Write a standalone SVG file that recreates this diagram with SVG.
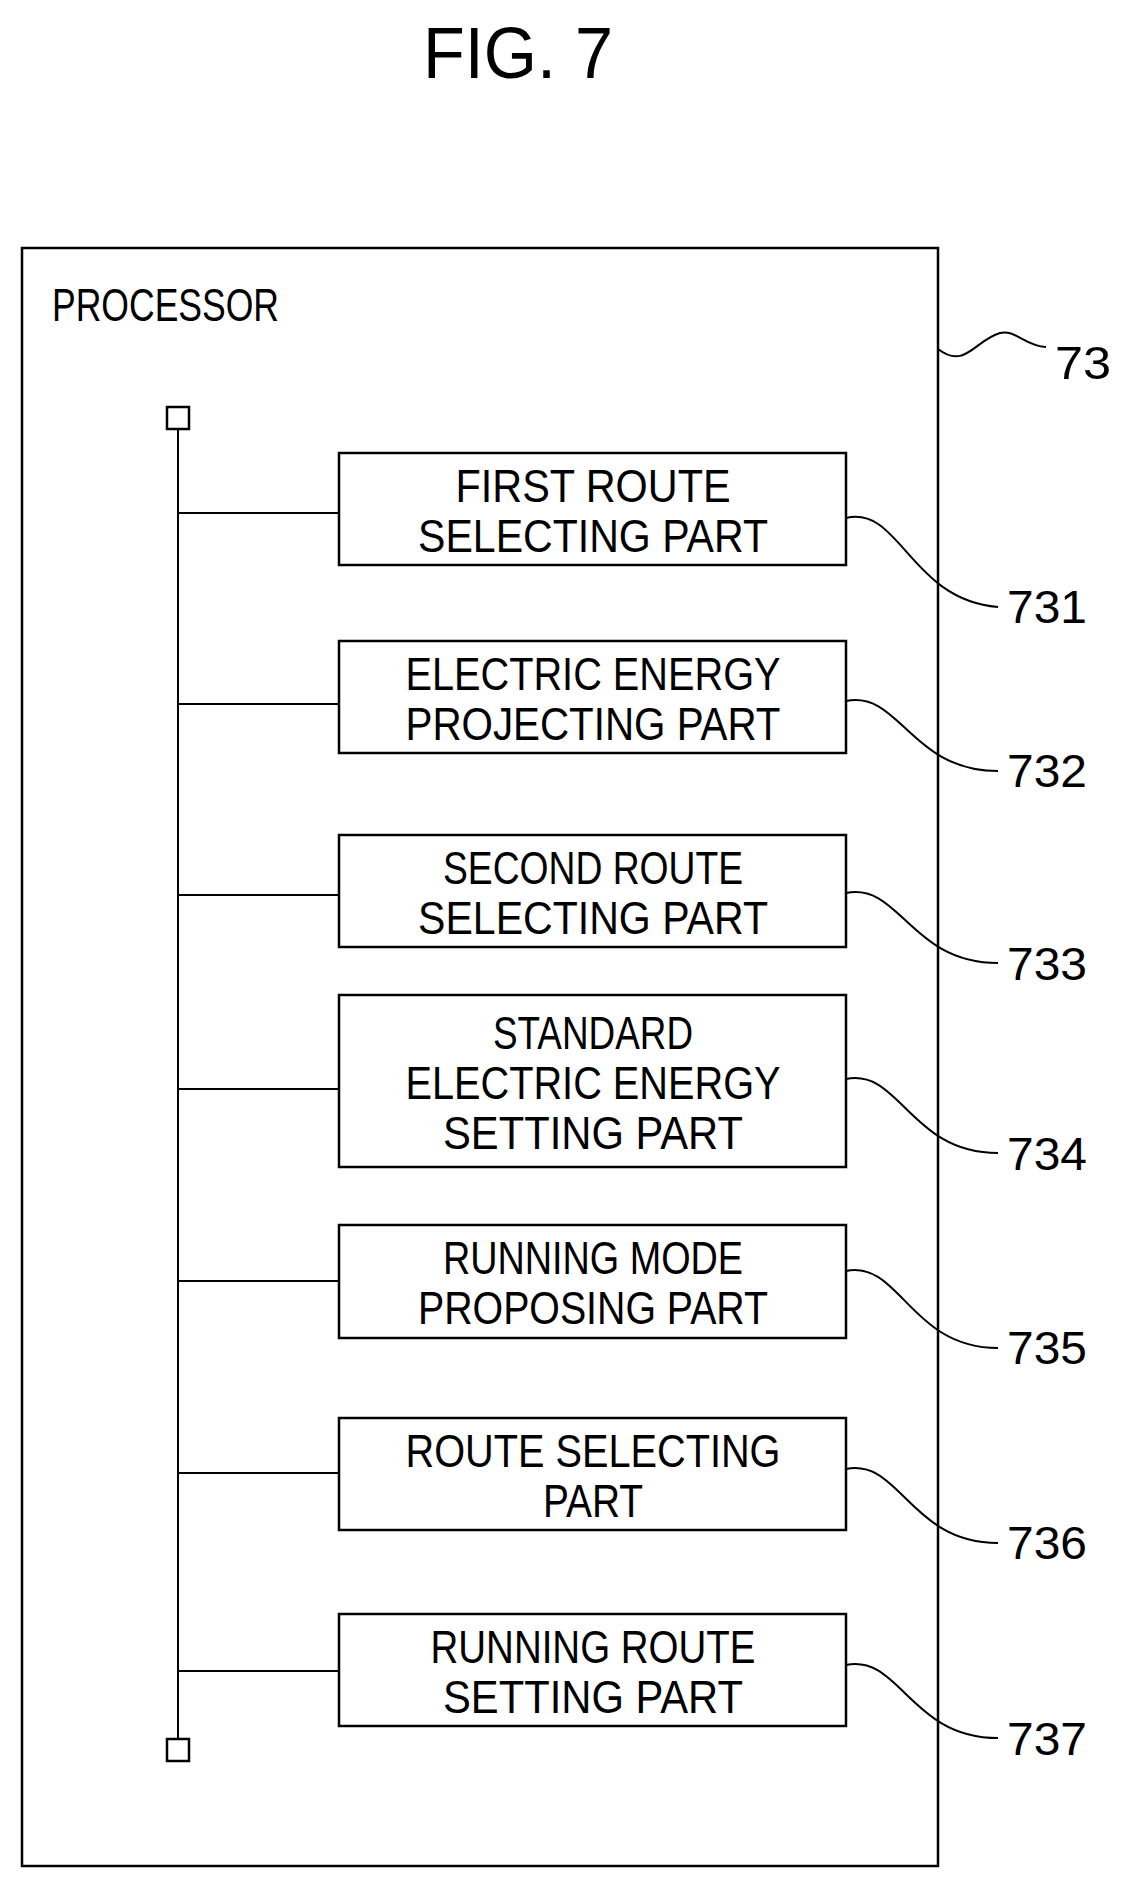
<svg xmlns="http://www.w3.org/2000/svg" width="1130" height="1893" viewBox="0 0 1130 1893">
<style>
text{font-family:"Liberation Sans",Arial,sans-serif;font-size:46px;fill:#000}
.c{text-anchor:middle}
.box{fill:#fff;stroke:#000;stroke-width:2.5}
.ln{fill:none;stroke:#000;stroke-width:2}
</style>
<rect width="1130" height="1893" fill="#fff"/>
<text x="518" y="78" class="c" style="font-size:72px" textLength="190" lengthAdjust="spacingAndGlyphs">FIG. 7</text>
<g id="processor">
<rect x="22" y="248" width="916" height="1618" class="box" stroke-width="3"/>
<text x="52" y="321" textLength="227" lengthAdjust="spacingAndGlyphs">PROCESSOR</text>
</g>
<g id="connectors">
<rect x="167" y="407" width="22" height="22" class="box" stroke-width="2"/>
<rect x="167" y="1739" width="22" height="22" class="box" stroke-width="2"/>
<line x1="178" y1="429" x2="178" y2="1739" class="ln"/>
<line x1="178" y1="513" x2="339" y2="513" class="ln"/>
<line x1="178" y1="704" x2="339" y2="704" class="ln"/>
<line x1="178" y1="895" x2="339" y2="895" class="ln"/>
<line x1="178" y1="1089" x2="339" y2="1089" class="ln"/>
<line x1="178" y1="1281" x2="339" y2="1281" class="ln"/>
<line x1="178" y1="1473" x2="339" y2="1473" class="ln"/>
<line x1="178" y1="1671" x2="339" y2="1671" class="ln"/>
<path d="M938,349 C965,370 975,340 1000,333 C1015,329 1025,346 1046,347" class="ln"/>
<path d="M846,518 C900,505 910,600 998,607" class="ln"/>
<path d="M846,701 C900,690 910,771 998,771" class="ln"/>
<path d="M846,893 C900,882 910,963 998,963" class="ln"/>
<path d="M846,1079 C900,1068 910,1153 998,1153" class="ln"/>
<path d="M846,1271 C900,1260 910,1348 998,1348" class="ln"/>
<path d="M846,1469 C900,1458 910,1543 998,1543" class="ln"/>
<path d="M846,1665 C900,1654 910,1738 998,1738" class="ln"/>
</g>
<g id="labels">
<text x="1055" y="379" textLength="56" lengthAdjust="spacingAndGlyphs">73</text>
<text x="1007" y="623" textLength="80" lengthAdjust="spacingAndGlyphs">731</text>
<text x="1007" y="787" textLength="80" lengthAdjust="spacingAndGlyphs">732</text>
<text x="1007" y="980" textLength="80" lengthAdjust="spacingAndGlyphs">733</text>
<text x="1007" y="1170" textLength="80" lengthAdjust="spacingAndGlyphs">734</text>
<text x="1007" y="1364" textLength="80" lengthAdjust="spacingAndGlyphs">735</text>
<text x="1007" y="1559" textLength="80" lengthAdjust="spacingAndGlyphs">736</text>
<text x="1007" y="1755" textLength="80" lengthAdjust="spacingAndGlyphs">737</text>
</g>
<g id="n731"><rect x="339" y="453" width="507" height="112" class="box"/>
<text x="593" y="502" class="c" textLength="275" lengthAdjust="spacingAndGlyphs">FIRST ROUTE</text>
<text x="593" y="552" class="c" textLength="350" lengthAdjust="spacingAndGlyphs">SELECTING PART</text></g>
<g id="n732"><rect x="339" y="641" width="507" height="112" class="box"/>
<text x="593" y="690" class="c" textLength="375" lengthAdjust="spacingAndGlyphs">ELECTRIC ENERGY</text>
<text x="593" y="740" class="c" textLength="375" lengthAdjust="spacingAndGlyphs">PROJECTING PART</text></g>
<g id="n733"><rect x="339" y="835" width="507" height="112" class="box"/>
<text x="593" y="884" class="c" textLength="300" lengthAdjust="spacingAndGlyphs">SECOND ROUTE</text>
<text x="593" y="934" class="c" textLength="350" lengthAdjust="spacingAndGlyphs">SELECTING PART</text></g>
<g id="n734"><rect x="339" y="995" width="507" height="172" class="box"/>
<text x="593" y="1049" class="c" textLength="200" lengthAdjust="spacingAndGlyphs">STANDARD</text>
<text x="593" y="1099" class="c" textLength="375" lengthAdjust="spacingAndGlyphs">ELECTRIC ENERGY</text>
<text x="593" y="1149" class="c" textLength="300" lengthAdjust="spacingAndGlyphs">SETTING PART</text></g>
<g id="n735"><rect x="339" y="1225" width="507" height="113" class="box"/>
<text x="593" y="1274" class="c" textLength="300" lengthAdjust="spacingAndGlyphs">RUNNING MODE</text>
<text x="593" y="1324" class="c" textLength="350" lengthAdjust="spacingAndGlyphs">PROPOSING PART</text></g>
<g id="n736"><rect x="339" y="1418" width="507" height="112" class="box"/>
<text x="593" y="1467" class="c" textLength="375" lengthAdjust="spacingAndGlyphs">ROUTE SELECTING</text>
<text x="593" y="1517" class="c" textLength="100" lengthAdjust="spacingAndGlyphs">PART</text></g>
<g id="n737"><rect x="339" y="1614" width="507" height="112" class="box"/>
<text x="593" y="1663" class="c" textLength="325" lengthAdjust="spacingAndGlyphs">RUNNING ROUTE</text>
<text x="593" y="1713" class="c" textLength="300" lengthAdjust="spacingAndGlyphs">SETTING PART</text></g>
</svg>
